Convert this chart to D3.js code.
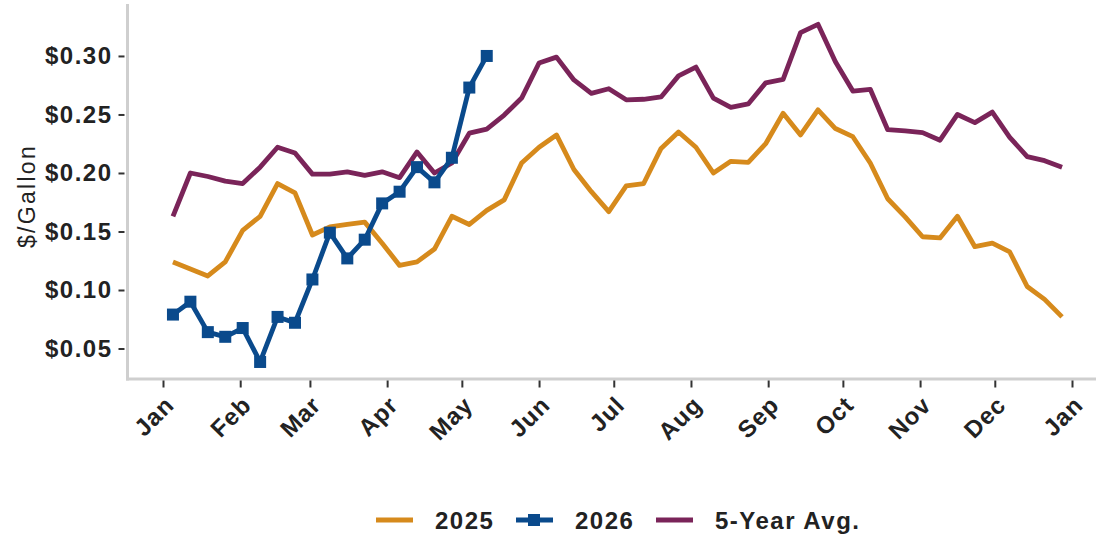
<!DOCTYPE html>
<html>
<head>
<meta charset="utf-8">
<script src="https://cdn.jsdelivr.net/npm/d3@7/dist/d3.min.js"></script>
<style>
  body { margin: 0; background: #fff; }
  svg { display: block; font-family: "Liberation Sans", Arial, sans-serif; }
</style>
</head>
<body>
<svg class="chart" width="1096" height="539"></svg>
<script>
// weekly values, $/gallon, first week of the year onward
var firstWeek = new Date(2025, 0, 5);

var values2025 = [0.124, 0.118, 0.112, 0.124, 0.151, 0.163, 0.191, 0.183, 0.147, 0.154,
    0.156, 0.158, 0.140, 0.121, 0.124, 0.135, 0.163, 0.156, 0.168, 0.177,
    0.2085, 0.222, 0.2325, 0.203, 0.184, 0.167, 0.189, 0.191, 0.221, 0.235,
    0.222, 0.200, 0.210, 0.209, 0.225, 0.251, 0.2325, 0.254, 0.238, 0.231,
    0.2085, 0.178, 0.1625, 0.1455, 0.1445, 0.163, 0.137, 0.140, 0.1325, 0.103,
    0.092, 0.077];

var values2026 = [0.079, 0.090, 0.064, 0.060, 0.0675, 0.0385, 0.077, 0.072, 0.109, 0.149,
    0.127, 0.143, 0.174, 0.184, 0.205, 0.192, 0.213, 0.273, 0.300];

var valuesAvg = [0.163, 0.200, 0.197, 0.193, 0.191, 0.205, 0.222, 0.217, 0.199, 0.199,
    0.201, 0.198, 0.201, 0.196, 0.218, 0.200, 0.2085, 0.234, 0.2375, 0.2495,
    0.264, 0.294, 0.299, 0.2795, 0.268, 0.272, 0.2625, 0.263, 0.265, 0.283,
    0.2905, 0.264, 0.256, 0.259, 0.277, 0.280, 0.320, 0.327, 0.295, 0.270,
    0.2715, 0.237, 0.236, 0.2345, 0.228, 0.250, 0.243, 0.252, 0.2305, 0.214,
    0.2105, 0.205];

var yTicks = [0.05, 0.10, 0.15, 0.20, 0.25, 0.30];
var monthLabels = ["Jan", "Feb", "Mar", "Apr", "May", "Jun", "Jul", "Aug", "Sep", "Oct", "Nov", "Dec", "Jan"];

var seriesNames = ["2025", "2026", "5-Year Avg."];
var seriesColors = ["#d68a1c", "#0a4a8c", "#7a2459"];

(function draw() {
    'use strict';

    var svg = d3.select(".chart");
    var axisX = 127.5, axisY = 379;

    var x = d3.scaleTime()
        .domain([new Date(2025, 0, 1), new Date(2026, 0, 1)])
        .range([163, 1072]);

    var y = d3.scaleLinear()
        .domain([0.0248, 0.3444])
        .range([378, 4]);

    function weekDate(i) { return d3.timeDay.offset(firstWeek, 7 * i); }

    // grey axis lines
    svg.append("line")
        .attr("x1", axisX).attr("x2", axisX)
        .attr("y1", 4).attr("y2", axisY + 1.5)
        .attr("stroke", "#cfcfcf").attr("stroke-width", 3);
    svg.append("line")
        .attr("x1", axisX - 1.5).attr("x2", 1096)
        .attr("y1", axisY).attr("y2", axisY)
        .attr("stroke", "#cfcfcf").attr("stroke-width", 3);

    // y axis
    var yAxis = d3.axisLeft(y)
        .tickValues(yTicks)
        .tickSize(6)
        .tickPadding(6)
        .tickFormat(d3.format("$.2f"));

    var gy = svg.append("g")
        .attr("transform", "translate(" + (axisX - 3) + ",0)")
        .call(yAxis);
    gy.select(".domain").remove();
    gy.selectAll(".tick line").attr("stroke", "#333").attr("stroke-width", 2);
    gy.selectAll(".tick text")
        .attr("fill", "#222")
        .style("font-size", "24px")
        .style("font-weight", "bold")
        .style("letter-spacing", "1.5px");

    // x axis
    var xAxis = d3.axisBottom(x)
        .ticks(d3.timeMonth.every(1))
        .tickSize(7)
        .tickFormat(function(d, i) { return monthLabels[i]; });

    var gx = svg.append("g")
        .attr("transform", "translate(0," + (axisY + 1.5) + ")")
        .call(xAxis);
    gx.select(".domain").remove();
    gx.selectAll(".tick line").attr("stroke", "#333").attr("stroke-width", 2);
    gx.selectAll(".tick text")
        .attr("fill", "#222")
        .attr("x", 0).attr("y", 0).attr("dy", 0)
        .attr("text-anchor", "end")
        .attr("transform", "translate(12,26) rotate(-45)")
        .style("font-size", "24px")
        .style("font-weight", "bold")
        .style("letter-spacing", "1px");

    // y label
    svg.append("text")
        .attr("transform", "translate(35,196) rotate(-90)")
        .attr("text-anchor", "middle")
        .attr("fill", "#222")
        .style("font-size", "23px")
        .style("letter-spacing", "2.3px")
        .text("$/Gallon");

    // lines
    var line = d3.line()
        .x(function(d, i) { return x(weekDate(i)); })
        .y(function(d) { return y(d); });

    var allSeries = [values2025, values2026, valuesAvg];
    var drawOrder = [2, 0, 1];

    drawOrder.forEach(function(k) {
        svg.append("path")
            .datum(allSeries[k])
            .attr("fill", "none")
            .attr("stroke", seriesColors[k])
            .attr("stroke-width", 4.8)
            .attr("stroke-linejoin", "round")
            .attr("d", line);
    });

    svg.append("g")
        .selectAll("rect")
        .data(values2026)
        .enter().append("rect")
        .attr("x", function(d, i) { return x(weekDate(i)) - 6; })
        .attr("y", function(d) { return y(d) - 6; })
        .attr("width", 12)
        .attr("height", 12)
        .attr("fill", seriesColors[1]);

    // legend
    var legend = svg.append("g")
        .selectAll("g")
        .data(seriesNames)
        .enter().append("g")
        .attr("transform", function(d, i) { return "translate(" + (376 + i * 140) + ",520)"; });

    legend.append("line")
        .attr("x1", 0).attr("x2", 37)
        .attr("stroke", function(d, i) { return seriesColors[i]; })
        .attr("stroke-width", 5);

    legend.filter(function(d, i) { return i === 1; })
        .append("rect")
        .attr("x", 12).attr("y", -6)
        .attr("width", 12).attr("height", 12)
        .attr("fill", seriesColors[1]);

    legend.append("text")
        .attr("x", 59)
        .attr("dy", "0.36em")
        .attr("fill", "#222")
        .style("font-size", "24px")
        .style("font-weight", "bold")
        .style("letter-spacing", "1.5px")
        .text(function(d) { return d; });
})();
</script>
</body>
</html>
